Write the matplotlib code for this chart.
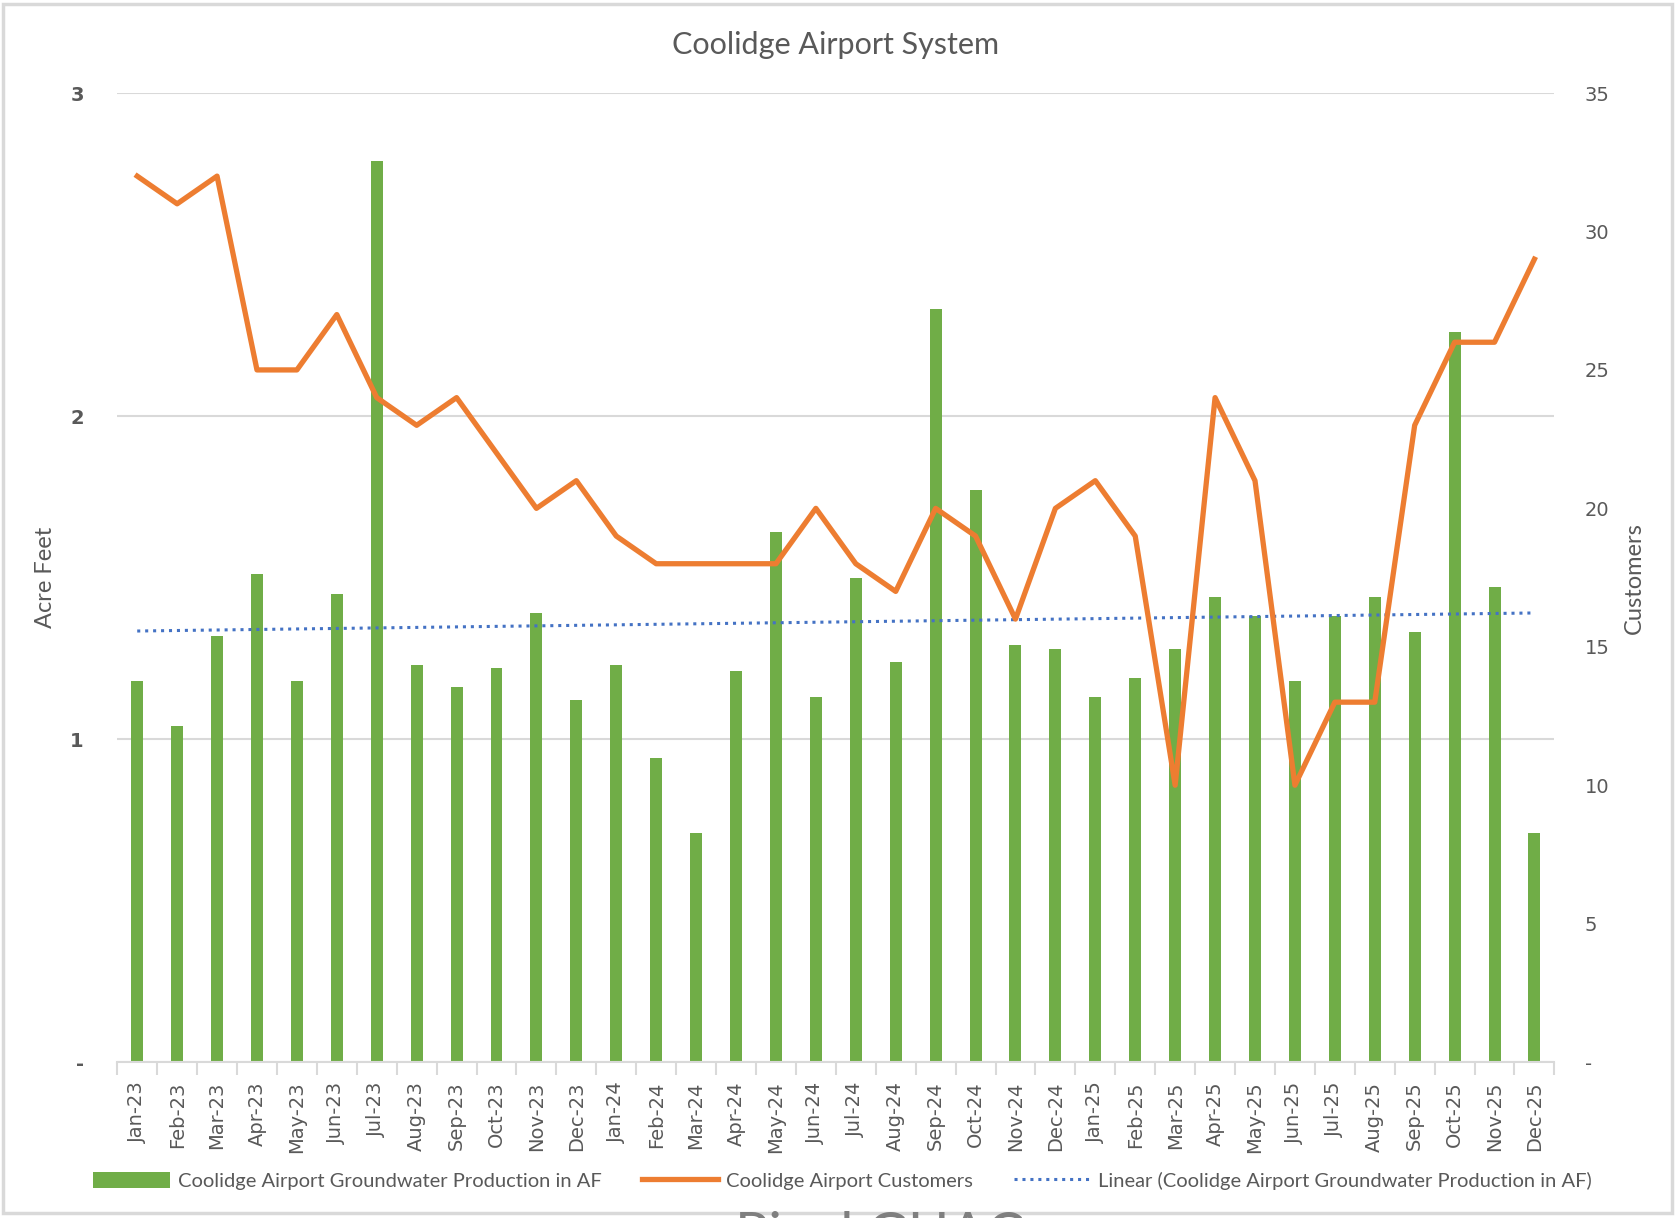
import numpy as np
from matplotlib import pyplot as plt
from matplotlib.patches import Rectangle

plt.rcParams['font.family'] = ['Lato', 'DejaVu Sans']

months = ['Jan-23', 'Feb-23', 'Mar-23', 'Apr-23', 'May-23', 'Jun-23', 'Jul-23', 'Aug-23',
          'Sep-23', 'Oct-23', 'Nov-23', 'Dec-23', 'Jan-24', 'Feb-24', 'Mar-24', 'Apr-24',
          'May-24', 'Jun-24', 'Jul-24', 'Aug-24', 'Sep-24', 'Oct-24', 'Nov-24', 'Dec-24',
          'Jan-25', 'Feb-25', 'Mar-25', 'Apr-25', 'May-25', 'Jun-25', 'Jul-25', 'Aug-25',
          'Sep-25', 'Oct-25', 'Nov-25', 'Dec-25']
production = [1.18, 1.04, 1.32, 1.51, 1.18, 1.45, 2.79, 1.23,
              1.16, 1.22, 1.39, 1.12, 1.23, 0.94, 0.71, 1.21,
              1.64, 1.13, 1.50, 1.24, 2.33, 1.77, 1.29, 1.28,
              1.13, 1.19, 1.28, 1.44, 1.38, 1.18, 1.38, 1.44,
              1.33, 2.26, 1.47, 0.71]
customers = [32, 31, 32, 25, 25, 27, 24, 23,
             24, 22, 20, 21, 19, 18, 18, 18,
             18, 20, 18, 17, 20, 19, 16, 20,
             21, 19, 10, 24, 21, 10, 13, 13,
             23, 26, 26, 29]

green = '#70AD47'
orange = '#ED7D31'
blue = '#4472C4'
grey_txt = '#595959'

x = np.arange(len(months))

fig = plt.figure(figsize=(16.75, 12.18), dpi=100)
ax = fig.add_axes([0.070, 0.128, 0.858, 0.7956])

bars = ax.bar(x, production, width=0.3, color=green, zorder=2,
              label='Coolidge Airport Groundwater Production in AF')

# linha de tendencia linear (como no Excel)
coef = np.polyfit(x, production, 1)
trend, = ax.plot(x, np.polyval(coef, x), linestyle=(0, (1, 1.6)), color=blue, lw=2.2, zorder=3,
                 label='Linear (Coolidge Airport Groundwater Production in AF)')

ax.set_xlim(-0.5, len(months) - 0.5)
ax.set_ylim(0, 3)
ax.set_yticks([0, 1, 2, 3])
ax.set_yticklabels(['-', '1', '2', '3'], fontweight='bold', color=grey_txt, fontsize=14,
                   family='DejaVu Sans')
ax.yaxis.grid(True, color='#d9d9d9', lw=1.5)
ax.set_axisbelow(True)
ax.tick_params(axis='y', length=0, pad=24)

ax.set_xticks(x)
ax.set_xticklabels(months, rotation=90, fontsize=14, color=grey_txt, family='DejaVu Sans')
ax.set_xticks(np.arange(-0.5, len(months)), minor=True)
ax.tick_params(axis='x', which='major', length=0, pad=14)
ax.tick_params(axis='x', which='minor', length=9, color='#d9d9d9', width=1.5)

for s in ['top', 'left', 'right']:
    ax.spines[s].set_visible(False)
ax.spines['bottom'].set_color('#d9d9d9')
ax.spines['bottom'].set_linewidth(1.5)

ax.set_ylabel('Acre Feet', fontsize=17, color=grey_txt, labelpad=10)

ax2 = ax.twinx()
line, = ax2.plot(x, customers, color=orange, lw=3.8, zorder=4,
                 label='Coolidge Airport Customers')
ax2.set_ylim(0, 35)
ax2.set_yticks(range(0, 36, 5))
ax2.set_yticklabels(['-'] + [str(v) for v in range(5, 36, 5)], fontsize=14, color=grey_txt,
                    family='DejaVu Sans')
ax2.tick_params(axis='y', length=0, pad=22)
for s in ['top', 'left', 'right', 'bottom']:
    ax2.spines[s].set_visible(False)
ax2.set_ylabel('Customers', fontsize=17, color=grey_txt, labelpad=10)

ax.set_title('Coolidge Airport System', fontsize=22, color=grey_txt, pad=28)

fig.legend([bars, line, trend],
           ['Coolidge Airport Groundwater Production in AF', 'Coolidge Airport Customers',
            'Linear (Coolidge Airport Groundwater Production in AF)'],
           loc='center', bbox_to_anchor=(0.503, 0.0305), ncol=3, frameon=False,
           fontsize=14.5, labelcolor=grey_txt, handlelength=3.8, handleheight=0.9,
           columnspacing=2.0, handletextpad=0.4)

# texto cortado na parte de baixo da imagem
fig.text(0.525, 0.006, 'Pinal GUAC', ha='center', va='top', fontsize=40, color='#7f7f7f')

fig.patches.append(Rectangle((0.002, 0.004), 0.996, 0.993, transform=fig.transFigure,
                             fill=False, edgecolor='#d9d9d9', lw=2.5))

fig.savefig('out.png', dpi=100)
